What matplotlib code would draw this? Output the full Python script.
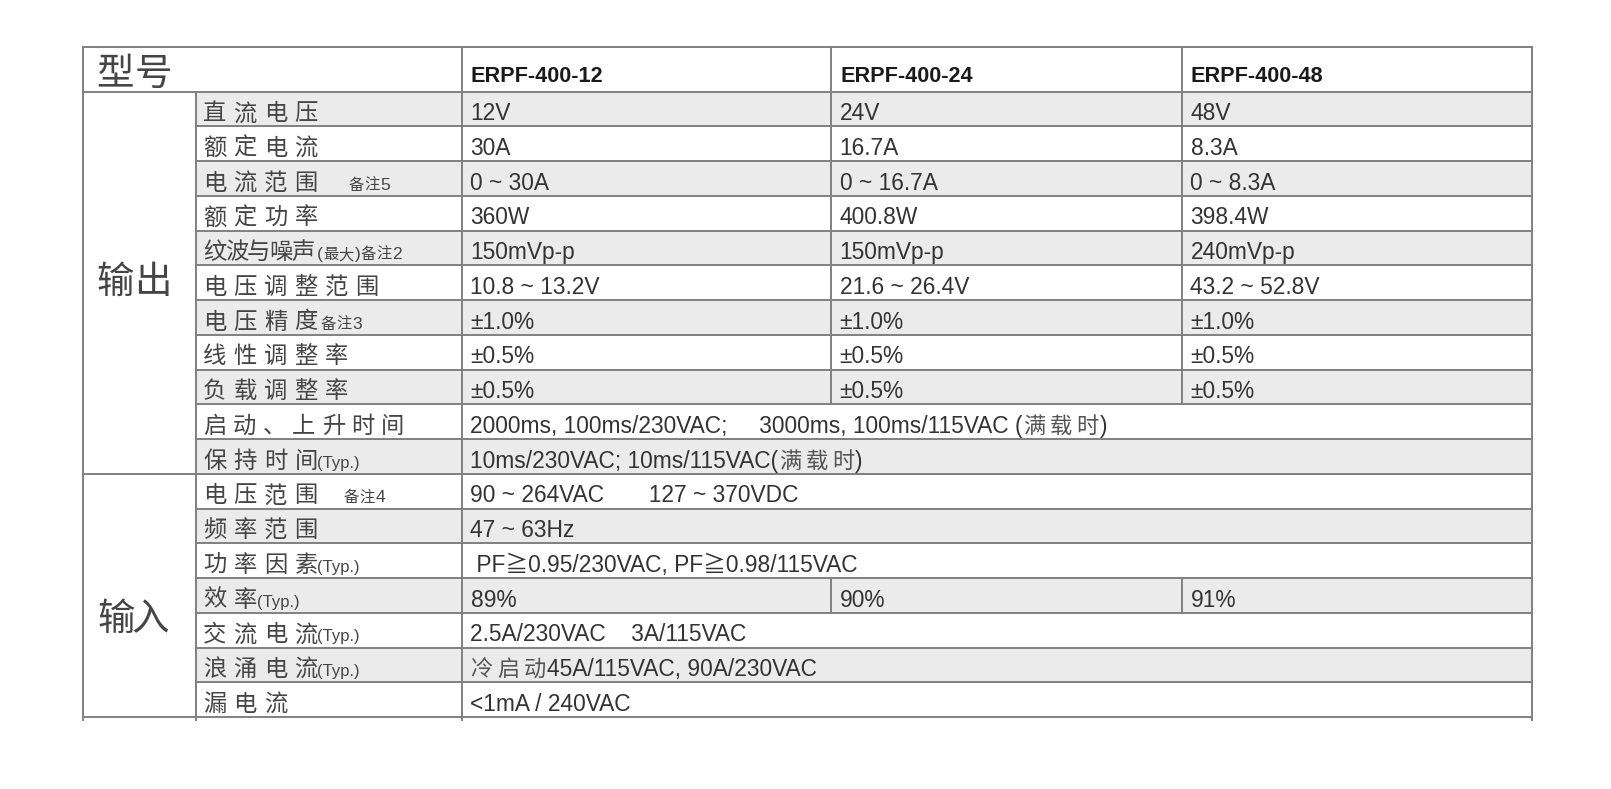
import matplotlib
matplotlib.use('Agg')
import matplotlib.pyplot as plt
from matplotlib.patches import Rectangle

# ---- table content ----
models = ['ERPF-400-12', 'ERPF-400-24', 'ERPF-400-48']
groups = ['输出', '输入']
group_sizes = [11, 7]
params = ['直流电压', '额定电流', '电流范围', '额定功率', '纹波与噪声', '电压调整范围',
          '电压精度', '线性调整率', '负载调整率', '启动、上升时间', '保持时间',
          '电压范围', '频率范围', '功率因素', '效率', '交流电流', '浪涌电流', '漏电流']
notes = ['', '', '备注5', '', '(最大)备注2', '', '备注3', '', '', '', '(Typ.)',
         '备注4', '', '(Typ.)', '(Typ.)', '(Typ.)', '(Typ.)', '']
vals_12 = ['12V', '30A', '0 ~ 30A', '360W', '150mVp-p', '10.8 ~ 13.2V', '±1.0%', '±0.5%', '±0.5%',
           '2000ms, 100ms/230VAC;     3000ms, 100ms/115VAC (满载时)',
           '10ms/230VAC; 10ms/115VAC(满载时)',
           '90 ~ 264VAC       127 ~ 370VDC', '47 ~ 63Hz', ' PF≧0.95/230VAC, PF≧0.98/115VAC',
           '89%', '2.5A/230VAC    3A/115VAC', '冷启动45A/115VAC, 90A/230VAC', '<1mA / 240VAC']
# None = cell merged with the first model column
vals_24 = ['24V', '16.7A', '0 ~ 16.7A', '400.8W', '150mVp-p', '21.6 ~ 26.4V', '±1.0%', '±0.5%', '±0.5%',
           None, None, None, None, None, '90%', None, None, None]
vals_48 = ['48V', '8.3A', '0 ~ 8.3A', '398.4W', '240mVp-p', '43.2 ~ 52.8V', '±1.0%', '±0.5%', '±0.5%',
           None, None, None, None, None, '91%', None, None, None]

# ---- geometry (pixels) ----
W, H = 1611, 789
X_LEFT, X_GRP, X_PAR, X_M2, X_M3, X_RIGHT = 83, 196, 462, 831, 1182, 1532
Y_TOP, Y_HEAD = 46.7, 91.7
ROW_H = (717 - Y_HEAD) / len(params)
LINE = '#808080'; FILL = '#ebebeb'; INK = '#333333'; CJK_INK = '#454545'
CJK = 'Noto Sans CJK SC'
LATIN = 'Liberation Sans'

fig = plt.figure(figsize=(W / 100, H / 100), dpi=100)
ax = fig.add_axes([0, 0, 1, 1])
ax.set_xlim(0, W); ax.set_ylim(H, 0); ax.axis('off')
renderer = fig.canvas.get_renderer()


def is_cjk(c):
    return ord(c) >= 0x3000


def draw_mixed(x, y, s, size, pitch, color=INK, cjk_size=None, cjk_color=None, weight='normal'):
    """CJK characters one by one at a fixed pitch, everything else as text runs."""
    runs = []
    for c in s:
        if runs and not is_cjk(c) and not is_cjk(runs[-1][0]):
            runs[-1] += c
        else:
            runs.append(c)
    for k, r in enumerate(runs):
        if is_cjk(r[0]):
            t = ax.text(x, y, r, fontsize=cjk_size or size, family=[CJK, 'DejaVu Sans'],
                        color=cjk_color or color, va='baseline', ha='left')
            if k == len(runs) - 1 or is_cjk(runs[k + 1][0]):
                x += pitch
            else:
                x += t.get_window_extent(renderer).width + 1
        else:
            t = ax.text(x, y, r, fontsize=size, family=[LATIN, CJK, 'DejaVu Sans'],
                        color=color, va='baseline', ha='left', fontweight=weight)
            x += t.get_window_extent(renderer).width
    return x


# ---- shading ----
for i in range(len(params)):
    if i % 2 == 0:
        y0 = Y_HEAD + i * ROW_H
        ax.add_patch(Rectangle((X_GRP, y0), X_RIGHT - X_GRP, ROW_H, color=FILL, lw=0, zorder=0))

# ---- lines ----
lw = 1.4
def hline(y, x0, x1):
    ax.plot([x0, x1], [y, y], color=LINE, lw=lw, solid_capstyle='projecting', zorder=2)
def vline(x, y0, y1):
    ax.plot([x, x], [y0, y1], color=LINE, lw=lw, solid_capstyle='projecting', zorder=2)

y_bottom = Y_HEAD + len(params) * ROW_H
hline(Y_TOP, X_LEFT, X_RIGHT)
hline(Y_HEAD, X_LEFT, X_RIGHT)
hline(y_bottom, X_LEFT, X_RIGHT)
vline(X_LEFT, Y_TOP, y_bottom + 3)
vline(X_RIGHT, Y_TOP, y_bottom + 3)
vline(X_PAR, Y_TOP, y_bottom + 3)
vline(X_GRP, Y_HEAD, y_bottom + 3)
vline(X_M2, Y_TOP, Y_HEAD)
vline(X_M3, Y_TOP, Y_HEAD)
start = 0
for g, n in zip(groups, group_sizes):
    if start > 0:
        hline(Y_HEAD + start * ROW_H, X_LEFT, X_RIGHT)
    start += n
for i in range(1, len(params)):
    hline(Y_HEAD + i * ROW_H, X_GRP, X_RIGHT)
for i in range(len(params)):
    if vals_24[i] is not None:
        y0 = Y_HEAD + i * ROW_H
        vline(X_M2, y0, y0 + ROW_H)
        vline(X_M3, y0, y0 + ROW_H)

# ---- header ----
draw_mixed(96, 85, '型号', 27, 38.3, color=CJK_INK)
for xm, m in zip([X_PAR, X_M2, X_M3], models):
    ax.text(xm + 9, 81.7, m, fontsize=15.6, family=LATIN, fontweight='bold',
            color='#1a1a1a', va='baseline', ha='left')

# ---- group labels ----
draw_mixed(96, 292.5, groups[0], 27, 38.5, color=CJK_INK)
draw_mixed(97, 630, groups[1], 27, 34.5, color=CJK_INK)

# ---- rows ----
pitch_override = {4: 22.0, 9: 29.7}
note_gap = {2: 32, 11: 27}
for i, p in enumerate(params):
    y0 = Y_HEAD + i * ROW_H
    yb = y0 + 28.5
    pitch = pitch_override.get(i, 30.5)
    xe = draw_mixed(203, yb, p, 16.8, pitch, color=CJK_INK)
    xe = xe - pitch + 22
    if notes[i]:
        if notes[i].startswith('(T'):
            draw_mixed(xe + 1, yb, notes[i], 12, 15, color=CJK_INK)
        else:
            draw_mixed(xe + note_gap.get(i, 4), yb, notes[i], 12.5, 15.5,
                       color=CJK_INK, cjk_size=11)
    for xc, vals in zip([X_PAR, X_M2, X_M3], [vals_12, vals_24, vals_48]):
        v = vals[i]
        if v is None:
            continue
        draw_mixed(xc + 8.5, yb, v, 16.4, 26.7, cjk_size=16, cjk_color='#555555')

fig.savefig('out.png', dpi=100, facecolor='white')
